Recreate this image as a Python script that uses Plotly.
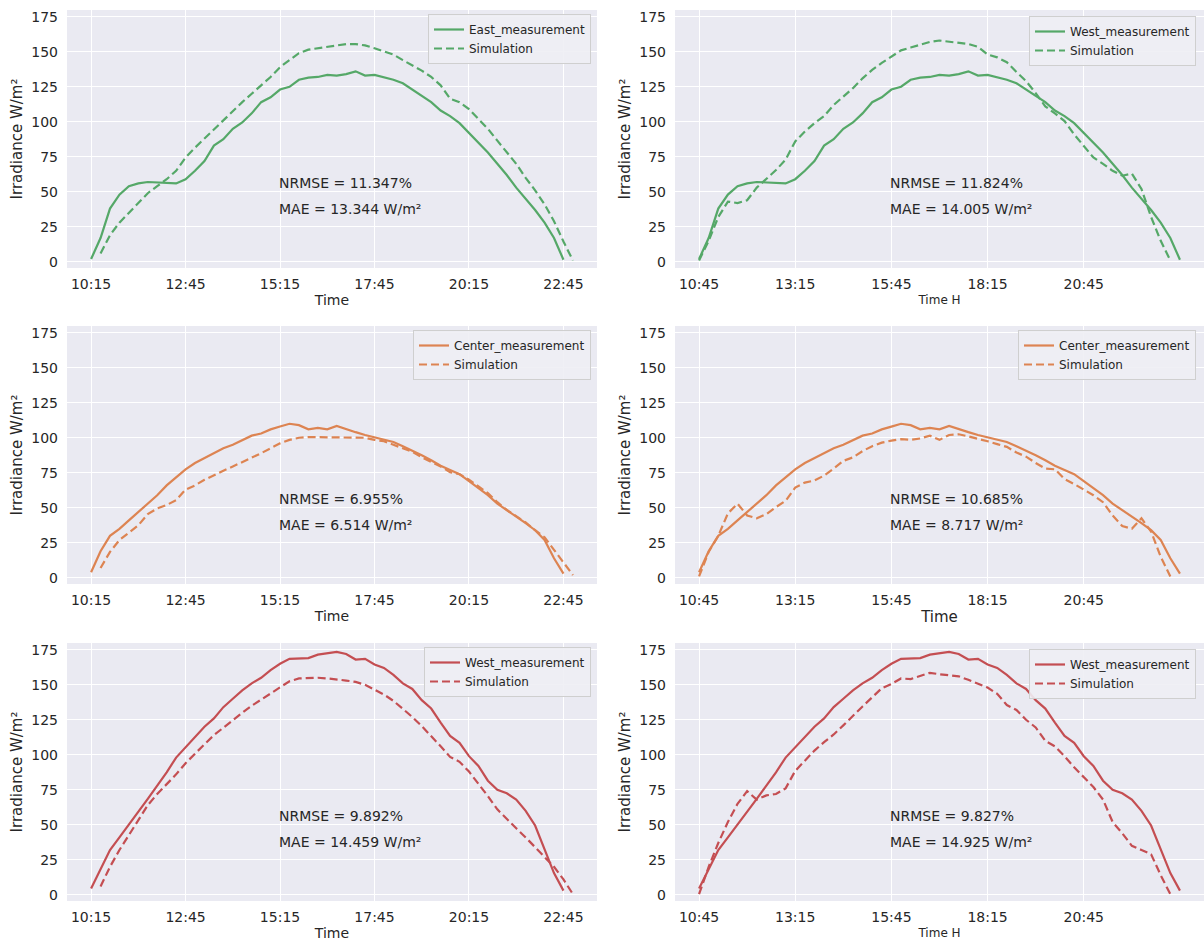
import pandas as pd
import plotly.graph_objects as go
from plotly.subplots import make_subplots

DAY = "2020-06-01 "

# ---- tick labels ----
left_ticks = ["10:15", "12:45", "15:15", "17:45", "20:15", "22:45"]
right_ticks = ["10:45", "13:15", "15:45", "18:15", "20:45"]

# ---- measured irradiance (W/m²), 15-min samples ----
east_meas = [2, 17, 38, 48, 54, 56, 57, 56.5, 56, 56, 59, 65, 72, 83, 87.5, 95, 99.5, 106, 114, 117.5,
             123, 125, 130, 131.5, 132, 133.5, 133, 134, 136, 133, 133.5, 132, 130, 127.5, 123, 119, 114,
             108, 104, 99, 92, 85, 78, 70, 62, 53, 45, 37, 28, 17, 1.5]
center_meas = [4, 19, 30, 35, 41, 47, 53, 59, 66, 72, 77.5, 82, 85.5, 88.5, 92.5, 95, 98, 101.5, 103, 106,
               108, 110, 109, 106, 107, 106, 108.5, 106, 104, 102, 100.5, 99, 97, 94, 91, 87.5, 84, 80, 77,
               74, 69, 64, 59, 53, 48.5, 43.5, 39, 34, 27, 14, 3]
west_meas = [4.5, 18, 32, 41, 50, 59, 68.5, 78, 87.5, 98, 105.5, 113, 120, 126, 134, 140, 146, 151, 155,
             160.5, 165, 168.5, 169, 169, 171.5, 172.5, 173.5, 172, 168, 168.5, 164.5, 162, 157, 151, 147,
             139, 133, 123, 113.5, 108.5, 99, 92, 81.5, 75, 72.5, 68, 60, 49.5, 33, 15.5, 3]

# ---- simulations ----
east_sim_left = [6, 19, 28, 35, 42, 49, 54, 59, 65, 74.5, 81.5, 88, 95, 101.5, 108, 114, 120, 126, 132, 139,
                 144, 149, 151.5, 152.5, 154, 155, 155.5, 155.5, 154.5, 152.5, 150.5, 148, 144, 140.5, 136.5,
                 132, 126, 116.5, 114, 109, 102, 95, 86.5, 78, 70, 60, 51, 41, 29, 14.5, 1]
west_sim_top_right = [1, 15, 32, 43, 42, 44, 53, 59, 65.5, 73, 86, 93, 99, 104, 112, 118, 124, 131, 137, 142,
                      146.5, 151, 153, 155, 157, 158, 157, 156.5, 155.5, 153.5, 148, 146, 142.5, 135.5, 129,
                      120.5, 111, 106, 100.5, 91, 83, 74.5, 70, 65, 61.5, 63, 52, 32, 15, 1]
center_sim_left = [7, 18.5, 27, 32, 37.5, 45.5, 49.5, 52, 55.5, 63, 66, 70, 73.5, 76.5, 79.5, 82.5, 86, 89,
                   92.5, 96, 98.5, 100, 100.5, 100.5, 100.5, 100.5, 100.5, 100.5, 100, 98.5, 97.5, 95, 92.5,
                   90, 86, 83, 79.5, 75.5, 74, 70, 65, 60.5, 54, 48.5, 44, 39.5, 34, 29, 20, 11, 2]
center_sim_right = [1, 18.5, 30, 46, 53, 44.5, 42.5, 45.5, 50.5, 55, 64.5, 68, 69.5, 73, 78, 83.5, 86, 90.5,
                    94, 96.5, 98, 99, 98.5, 99.5, 101.5, 98.5, 102, 102.5, 101, 99.5, 97.5, 95.5, 93.5, 89.5,
                    86.5, 82, 78, 77.5, 70.5, 67, 63, 59, 54, 44.5, 37, 35, 42.5, 33, 15, 1]
west_sim_left = [6, 20, 32, 43, 54, 64, 72, 79, 86, 94, 101, 107.5, 114, 119.5, 125, 130, 135, 139.5, 144,
                 148.5, 152.5, 154.5, 155, 155, 154.5, 154, 153, 152, 150, 146.5, 143, 138.5, 133, 127,
                 120.5, 113.5, 106, 98.5, 95, 88, 79.5, 70.5, 61, 54, 47.5, 41, 34, 27, 20, 11, 0.5]
west_sim_right = [0.5, 20, 37, 52, 65, 74, 68, 71, 72, 76, 88.5, 96, 103, 109, 114.5, 121, 128, 134.5, 141,
                  147.5, 150.5, 154.5, 154, 156.5, 158.5, 157.5, 157, 156, 153.5, 151, 148, 143.5, 135.5,
                  132, 125, 119.5, 110, 106, 99, 91, 84, 77, 68, 52, 44, 35, 32, 29, 14, 0.5]

nrmse = ["11.347%", "11.824%", "6.955%", "10.685%", "9.892%", "9.827%"]
mae = ["13.344", "14.005", "6.514", "8.717", "14.459", "14.925"]


def times(start, n):
    return pd.date_range(DAY + start, periods=n, freq="15min")


GREEN, ORANGE, RED = "#55A868", "#DD8452", "#C44E52"
TXT = "#262626"
FONT = "DejaVu Sans"

panels = [
    # row, col, meas label, meas, meas start, sim, sim start, color, xlabel, xlabel size
    (1, 1, "East_measurement", east_meas, "10:15", east_sim_left, "10:30", GREEN, "Time", 14),
    (1, 2, "West_measurement", east_meas, "10:45", west_sim_top_right, "10:45", GREEN, "Time H", 12),
    (2, 1, "Center_measurement", center_meas, "10:15", center_sim_left, "10:30", ORANGE, "Time", 14),
    (2, 2, "Center_measurement", center_meas, "10:45", center_sim_right, "10:45", ORANGE, "Time", 15),
    (3, 1, "West_measurement", west_meas, "10:15", west_sim_left, "10:30", RED, "Time", 14),
    (3, 2, "West_measurement", west_meas, "10:45", west_sim_right, "10:45", RED, "Time H", 12),
]

W, H = 1204, 942
xdom = {1: [67 / W, 597 / W], 2: [675 / W, 1.0]}
ydom = {1: [1 - 268 / H, 1 - 10 / H], 2: [1 - 584 / H, 1 - 326 / H], 3: [1 - 901 / H, 1 - 643 / H]}
legend_pos = {(1, 1): (591, 14), (1, 2): (1196, 16), (2, 1): (591, 330), (2, 2): (1196, 330),
              (3, 1): (591, 647), (3, 2): (1196, 649)}

fig = make_subplots(rows=3, cols=2)
layout_updates = {}
for i, (r, c, mlabel, meas, mstart, sim, sstart, color, xlabel, xsize) in enumerate(panels):
    idx = i + 1
    leg = "legend" if idx == 1 else f"legend{idx}"
    fig.add_trace(go.Scatter(x=times(mstart, len(meas)), y=meas, mode="lines", name=mlabel,
                             line=dict(color=color, width=2.2), legend=leg), row=r, col=c)
    fig.add_trace(go.Scatter(x=times(sstart, len(sim)), y=sim, mode="lines", name="Simulation",
                             line=dict(color=color, width=2.2, dash="8px,4px"), legend=leg), row=r, col=c)
    ticks = left_ticks if c == 1 else right_ticks
    xr = [DAY + "09:36:45", DAY + "23:38:15"] if c == 1 else [DAY + "10:07:30", DAY + "23:52:30"]
    ax = "" if idx == 1 else str(idx)
    layout_updates[f"xaxis{ax}"] = dict(
        domain=xdom[c], range=xr, type="date", tickvals=[DAY + t for t in ticks], ticktext=ticks,
        showgrid=True, gridcolor="white", gridwidth=1.4, zeroline=False, showline=False, ticks="",
        ticklabelstandoff=6, tickfont=dict(family=FONT, size=14, color=TXT), automargin=False,
        title=dict(text=xlabel, font=dict(family=FONT, size=xsize, color=TXT), standoff=4))
    layout_updates[f"yaxis{ax}"] = dict(
        domain=ydom[r], range=[-4.4, 179.8], tickvals=[0, 25, 50, 75, 100, 125, 150, 175],
        showgrid=True, gridcolor="white", gridwidth=1.4, zeroline=False, showline=False, ticks="",
        ticklabelstandoff=8, tickfont=dict(family=FONT, size=14, color=TXT), automargin=False,
        title=dict(text="Irradiance W/m²", font=dict(family=FONT, size=15, color=TXT), standoff=5))
    lx, ly = legend_pos[(r, c)]
    layout_updates[leg] = dict(
        x=lx / W, y=1 - ly / H, xanchor="right", yanchor="top", xref="paper", yref="paper",
        bgcolor="rgba(238,238,244,0.9)", bordercolor="#cfcfcf", borderwidth=1,
        font=dict(family=FONT, size=12, color=TXT), tracegroupgap=0, itemwidth=30)
    ann_x = DAY + ("15:15" if c == 1 else "15:45")
    xref = f"x{ax}"
    yref = f"y{ax}"
    fig.add_annotation(x=ann_x, y=56, xref=xref, yref=yref, text=f"NRMSE = {nrmse[i]}",
                       showarrow=False, xanchor="left", yanchor="middle", xshift=-3,
                       font=dict(family=FONT, size=14, color=TXT))
    fig.add_annotation(x=ann_x, y=38, xref=xref, yref=yref, text=f"MAE = {mae[i]} W/m²",
                       showarrow=False, xanchor="left", yanchor="middle", xshift=-3,
                       font=dict(family=FONT, size=14, color=TXT))

fig.update_layout(**layout_updates)
fig.update_layout(width=W, height=H, margin=dict(l=0, r=0, t=0, b=0),
                  paper_bgcolor="white", plot_bgcolor="#EAEAF2", showlegend=True,
                  font=dict(family=FONT, color=TXT))
fig.write_html("out.html")
